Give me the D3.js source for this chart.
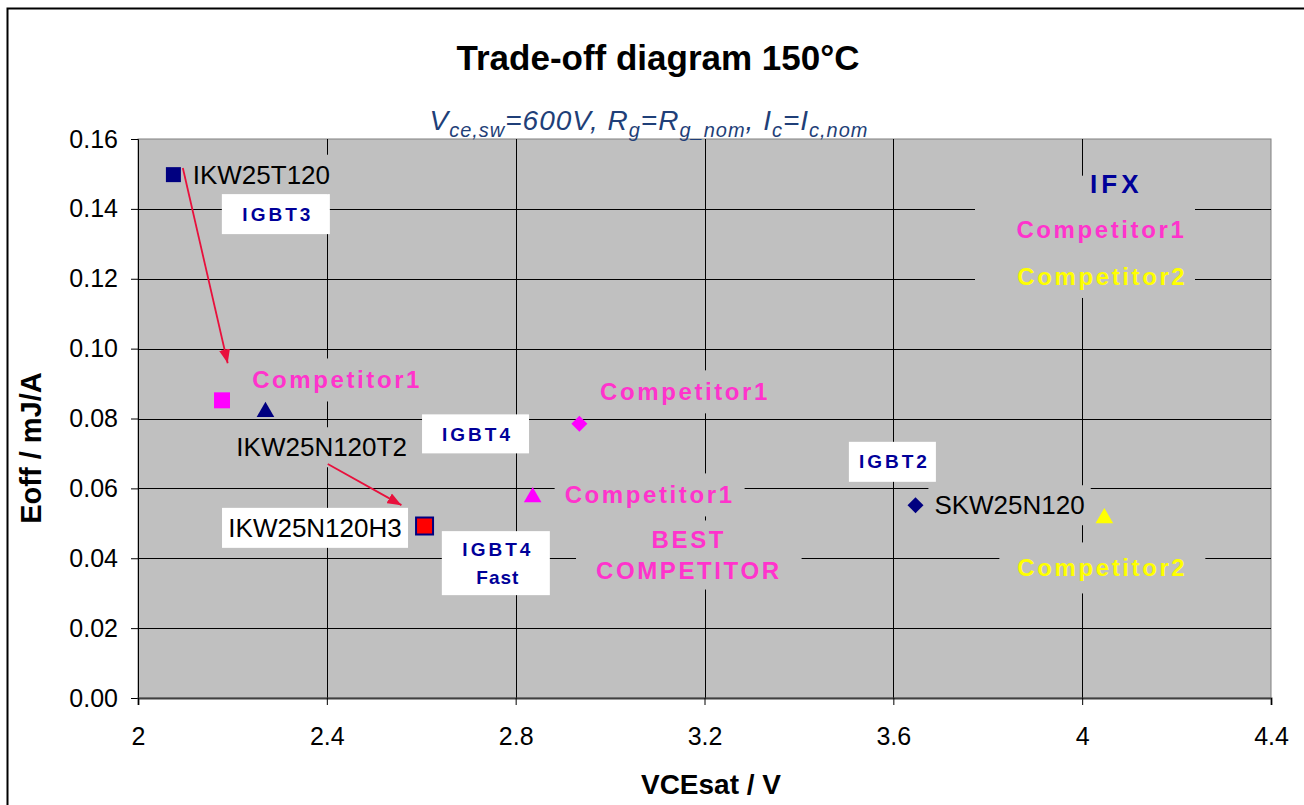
<!DOCTYPE html>
<html lang="en">
  <head>
    <meta charset="utf-8">
    <title>Trade-off diagram 150°C</title>
    <script src="https://d3js.org/d3.v7.min.js"></script>
    <style>
      body { margin: 0; background: #fff; }
      text { font-family: "Liberation Sans", Arial, sans-serif; }
    </style>
  </head>
  <body>
    <script>

      // data
      var parts = ["IKW25T120", "Competitor1 IGBT3", "IKW25N120T2", "IKW25N120H3",
                   "Competitor1 IGBT4", "Competitor1 Fast", "SKW25N120", "Competitor2"];
      var vcesat = [2.075, 2.178, 2.27, 2.607, 2.935, 2.836, 3.647, 4.047];
      var eoff = [0.1498, 0.0852, 0.0825, 0.0492, 0.0785, 0.0581, 0.0552, 0.0521];
      var shapes = ["square", "square", "triangle", "square", "diamond", "triangle", "diamond", "triangle"];
      var fills = ["#000080", "#ff00ff", "#000080", "#ff0000", "#ff00ff", "#ff00ff", "#000080", "#ffff00"];
      var xTicks = [2, 2.4, 2.8, 3.2, 3.6, 4, 4.4];
      var yTicks = [0, 0.02, 0.04, 0.06, 0.08, 0.10, 0.12, 0.14, 0.16];

      var W = 1304, H = 805;
      var pLeft = 138, pRight = 1271, pTop = 139, pBottom = 698;

      var svg = d3.select("body").append("svg")
                  .attr("width", W)
                  .attr("height", H);

      // outer frame (only top and left edge visible)
      svg.append("path")
         .attr("d", "M7.5," + H + "V8.5H" + W)
         .attr("fill", "none").attr("stroke", "#000").attr("stroke-width", 2);

      var x = d3.scaleLinear().domain([2, 4.4]).range([pLeft, pRight]);
      var y = d3.scaleLinear().domain([0, 0.16]).range([pBottom, pTop]);

      svg.append("rect")
         .attr("x", pLeft).attr("y", pTop)
         .attr("width", pRight - pLeft).attr("height", pBottom - pTop)
         .attr("fill", "#c0c0c0").attr("stroke", "#808080");

      // grid
      var grid = svg.append("g");
      grid.selectAll(".gx").data(xTicks.slice(1, -1)).enter().append("line")
          .attr("x1", function(d) { return Math.round(x(d)) + 0.5; })
          .attr("x2", function(d) { return Math.round(x(d)) + 0.5; })
          .attr("y1", pTop).attr("y2", pBottom)
          .attr("stroke", "#000");
      grid.selectAll(".gy").data(yTicks.slice(1, -1)).enter().append("line")
          .attr("y1", function(d) { return Math.round(y(d)) + 0.5; })
          .attr("y2", function(d) { return Math.round(y(d)) + 0.5; })
          .attr("x1", pLeft).attr("x2", pRight)
          .attr("stroke", "#000");

      // axes
      var yAxis = d3.axisLeft(y).tickValues(yTicks).tickSize(7).tickPadding(13)
                    .tickFormat(d3.format(".2f"));
      var xAxis = d3.axisBottom(x).tickValues(xTicks).tickSize(7).tickPadding(22)
                    .tickFormat(function(d) { return String(d); });

      var gy = svg.append("g").attr("transform", "translate(" + pLeft + ",0)").call(yAxis);
      var gx = svg.append("g").attr("transform", "translate(0," + pBottom + ")").call(xAxis);
      [gx, gy].forEach(function(g) {
        g.selectAll("text").attr("font-size", 25).attr("fill", "#000")
         .attr("font-family", "Liberation Sans, Arial, sans-serif");
        g.selectAll("line").attr("stroke", "#000");
      });
      gy.select(".domain").attr("stroke", "#000").attr("stroke-width", 1);
      gx.select(".domain").attr("stroke", "#404040").attr("stroke-width", 2);

      // masks behind labels (hide gridlines, like the text boxes in the sheet)
      var masks = svg.append("g");
      var arrows = svg.append("g");
      var marks = svg.append("g");
      var labels = svg.append("g");

      // black part-number labels
      var annText = ["IKW25T120", "IKW25N120T2", "SKW25N120"];
      var annX = [2.116, 2.389, 3.687];
      var annY = [0.1498, 0.0718, 0.0552];
      var annAnchor = ["start", "middle", "start"];

      var pinkText = ["Competitor1", "Competitor1", "Competitor1", "Competitor1"];
      var pinkX = [2.419, 3.156, 3.081, 4.038];
      var pinkY = [0.0910, 0.0876, 0.0581, 0.1340];

      var yellowText = ["Competitor2", "Competitor2"];
      var yellowX = [4.040, 4.040];
      var yellowY = [0.0372, 0.1205];

      var bestLines = ["BEST", "COMPETITOR"];
      var bestX = 3.164;
      var bestY = [0.0452, 0.0366];

      var boxText = [["IGBT3"], ["IGBT4"], ["IGBT4", "Fast"], ["IGBT2"]];
      var boxX = [2.292, 2.715, 2.758, 3.598];
      var boxY = [0.1385, 0.0756, 0.0386, 0.0676];
      var boxW = [108, 107, 108, 87];
      var boxH = [40, 39, 64, 40];

      var LS = 2.6; // letter spacing of the bold coloured labels

      function maskFor(el, px, py) {
        var b = el.node().getBBox();
        masks.append("rect")
             .attr("x", b.x - px).attr("y", b.y - py)
             .attr("width", b.width + 2 * px).attr("height", b.height + 2 * py)
             .attr("fill", "#c0c0c0");
      }

      function colourLabel(t, cx, cy, colour) {
        return labels.append("text")
          .attr("x", cx).attr("y", cy)
          .attr("dx", LS / 2).attr("dy", "0.35em").attr("text-anchor", "middle")
          .attr("font-size", 24).attr("font-weight", "bold")
          .attr("letter-spacing", LS).attr("fill", colour)
          .text(t);
      }

      annText.forEach(function(t, i) {
        var el = labels.append("text")
          .attr("x", x(annX[i])).attr("y", y(annY[i]))
          .attr("dy", "0.35em")
          .attr("text-anchor", annAnchor[i])
          .attr("font-size", 26).attr("fill", "#000")
          .text(t);
        maskFor(el, 6, 5);
      });

      pinkText.forEach(function(t, i) {
        var el = colourLabel(t, x(pinkX[i]), y(pinkY[i]), "#ff33cc");
        if (i < 3) maskFor(el, 10, 8);
      });

      yellowText.forEach(function(t, i) {
        var el = colourLabel(t, x(yellowX[i]), y(yellowY[i]), "#ffff00");
        if (i == 0) maskFor(el, 18, 12);
      });

      bestLines.forEach(function(t, i) {
        var el = colourLabel(t, x(bestX), y(bestY[i]), "#ff33cc");
        maskFor(el, 20, 6);
      });

      // legend block top right
      labels.append("text")
        .attr("x", x(4.068)).attr("y", y(0.1471))
        .attr("dx", 2).attr("dy", "0.35em").attr("text-anchor", "middle")
        .attr("font-size", 26).attr("font-weight", "bold")
        .attr("letter-spacing", 4).attr("fill", "#000099")
        .text("IFX");
      masks.append("rect")
           .attr("x", 975).attr("y", y(0.1495))
           .attr("width", 220).attr("height", y(0.1145) - y(0.1495))
           .attr("fill", "#c0c0c0");

      // white boxes with IGBT generation
      boxText.forEach(function(lines, i) {
        var cx = x(boxX[i]), cy = y(boxY[i]);
        labels.append("rect")
          .attr("x", cx - boxW[i] / 2).attr("y", cy - boxH[i] / 2)
          .attr("width", boxW[i]).attr("height", boxH[i])
          .attr("fill", "#fff");
        lines.forEach(function(t, j) {
          labels.append("text")
            .attr("x", cx + 2).attr("y", cy + (j - (lines.length - 1) / 2) * 28)
            .attr("dy", "0.35em").attr("text-anchor", "middle")
            .attr("font-size", 19).attr("font-weight", "bold")
            .attr("letter-spacing", t.indexOf("IGBT") == 0 ? 3 : 1)
            .attr("fill", "#000099")
            .text(t);
        });
      });

      // white box with IKW25N120H3
      var h3x = x(2.375), h3y = y(0.0487);
      labels.append("rect")
        .attr("x", h3x - 93).attr("y", h3y - 20)
        .attr("width", 186).attr("height", 40)
        .attr("fill", "#fff");
      labels.append("text")
        .attr("x", h3x).attr("y", h3y)
        .attr("dy", "0.35em").attr("text-anchor", "middle")
        .attr("font-size", 26).attr("fill", "#000")
        .text("IKW25N120H3");

      // arrows
      var arrowFrom = [[2.095, 0.1517], [2.402, 0.0670]];
      var arrowTo = [[2.190, 0.0958], [2.558, 0.0552]];
      svg.append("defs").append("marker")
         .attr("id", "head").attr("viewBox", "0 0 14 11")
         .attr("refX", 14).attr("refY", 5.5)
         .attr("markerWidth", 14).attr("markerHeight", 11)
         .attr("markerUnits", "userSpaceOnUse")
         .attr("orient", "auto")
         .append("path").attr("d", "M0,0L14,5.5L0,11z").attr("fill", "#e8103c");
      arrowFrom.forEach(function(a, i) {
        arrows.append("line")
          .attr("x1", x(a[0])).attr("y1", y(a[1]))
          .attr("x2", x(arrowTo[i][0])).attr("y2", y(arrowTo[i][1]))
          .attr("stroke", "#e8103c").attr("stroke-width", 1.8)
          .attr("marker-end", "url(#head)");
      });

      // markers
      var symbolFor = {
        square: function(s) { return "M" + (-s / 2) + "," + (-s / 2) + "h" + s + "v" + s + "h" + (-s) + "z"; },
        triangle: function(s) { return "M0," + (-s * 0.5) + "L" + (s * 0.55) + "," + (s * 0.45) + "L" + (-s * 0.55) + "," + (s * 0.45) + "z"; },
        diamond: function(s) { return "M0," + (-s / 2) + "L" + (s / 2) + ",0L0," + (s / 2) + "L" + (-s / 2) + ",0z"; }
      };
      var sizes = [15, 16, 16, 17, 16, 16, 16, 16];
      marks.selectAll("path").data(parts).enter().append("path")
        .attr("transform", function(d, i) { return "translate(" + x(vcesat[i]) + "," + y(eoff[i]) + ")"; })
        .attr("d", function(d, i) { return symbolFor[shapes[i]](sizes[i]); })
        .attr("fill", function(d, i) { return fills[i]; })
        .attr("stroke", function(d, i) { return d == "IKW25N120H3" ? "#000080" : "none"; })
        .attr("stroke-width", 2);

      // titles
      svg.append("text")
         .attr("x", 658).attr("y", 70)
         .attr("text-anchor", "middle")
         .attr("font-size", 35).attr("font-weight", "bold")
         .text("Trade-off diagram 150°C");

      var sub = svg.append("text")
         .attr("x", 649).attr("y", 130)
         .attr("text-anchor", "middle")
         .attr("font-size", 28).attr("font-style", "italic")
         .attr("letter-spacing", 1)
         .attr("fill", "#1f3f78");
      var subParts = [["V", 0], ["ce,sw", 1], ["=600V,  R", 0], ["g", 1], ["=R", 0], ["g_nom", 1],
                      [",  I", 0], ["c", 1], ["=I", 0], ["c,nom", 1]];
      subParts.forEach(function(p, i) {
        var prev = i > 0 ? subParts[i - 1][1] : 0;
        sub.append("tspan")
           .attr("font-size", p[1] ? 20 : 28)
           .attr("dy", p[1] - prev == 1 ? 7 : (p[1] - prev == -1 ? -7 : 0))
           .text(p[0]);
      });

      svg.append("text")
         .attr("transform", "translate(41," + 448 + ") rotate(-90)")
         .attr("text-anchor", "middle")
         .attr("font-size", 29).attr("font-weight", "bold")
         .text("Eoff / mJ/A");

      svg.append("text")
         .attr("x", 711).attr("y", 794)
         .attr("text-anchor", "middle")
         .attr("font-size", 28).attr("font-weight", "bold")
         .text("VCEsat / V");

    </script>
  </body>
</html>
